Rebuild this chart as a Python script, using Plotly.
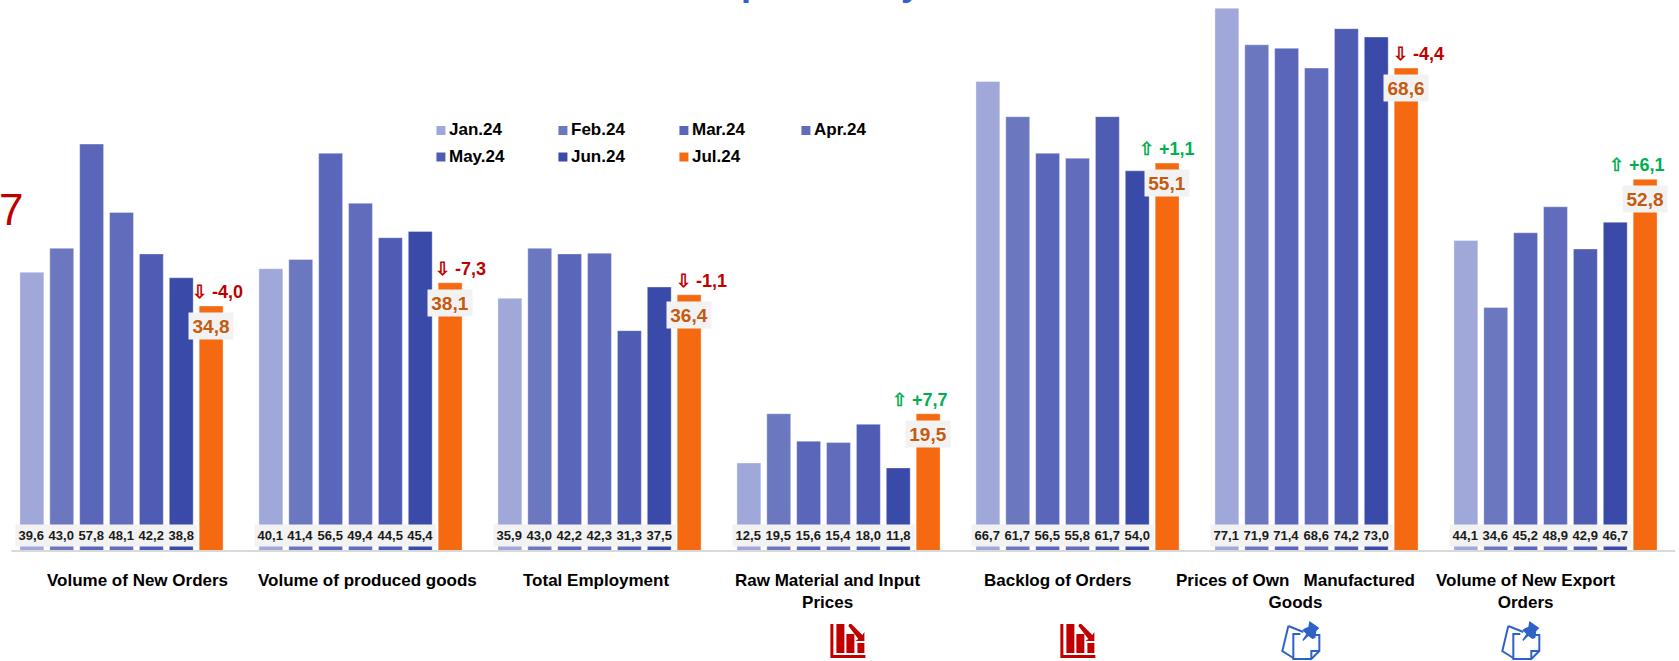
import plotly.graph_objects as go

categories = ["Volume of New Orders", "Volume of produced goods", "Total Employment",
              "Raw Material and Input Prices", "Backlog of Orders",
              "Prices of Own Manufactured Goods", "Volume of New Export Orders"]
tick_labels = ["Volume of New Orders", "Volume of produced goods", "Total Employment",
               "Raw Material and Input<br>Prices", "Backlog of Orders",
               "Prices of Own \u00a0 Manufactured<br>Goods", "Volume of New Export<br>Orders"]
months = ["Jan.24", "Feb.24", "Mar.24", "Apr.24", "May.24", "Jun.24", "Jul.24"]

jan = [39.6, 40.1, 35.9, 12.5, 66.7, 77.1, 44.1]
feb = [43.0, 41.4, 43.0, 19.5, 61.7, 71.9, 34.6]
mar = [57.8, 56.5, 42.2, 15.6, 56.5, 71.4, 45.2]
apr = [48.1, 49.4, 42.3, 15.4, 55.8, 68.6, 48.9]
may = [42.2, 44.5, 31.3, 18.0, 61.7, 74.2, 42.9]
jun = [38.8, 45.4, 37.5, 11.8, 54.0, 73.0, 46.7]
jul = [34.8, 38.1, 36.4, 19.5, 55.1, 68.6, 52.8]
series = [jan, feb, mar, apr, may, jun, jul]

delta_labels = ["\u21e9 -4,0", "\u21e9 -7,3", "\u21e9 -1,1", "\u21e7 +7,7", "\u21e7 +1,1", "\u21e9 -4,4", "\u21e7 +6,1"]

colors = ["#A0A8D9", "#6B78C0", "#5966B9", "#616DBC", "#4F5CB4", "#3A4AA9", "#F56A11"]
RED, GREEN, BLUE, AMBER = "#C00000", "#00B050", "#2F62C6", "#C55A11"
FONT = "Liberation Sans, Arial, sans-serif"

W, H = 1679, 661
L, R, BASE = 1.5, 1674.7, 551
delta_dx = [6.5, 10, 12, -8, 0, 12, -8]
caption_x = [137, 367, 596, 827, 1057, 1295, 1525]
per_unit = 7.04
legend_x = [436, 558, 679, 801, 436, 558, 679]
legend_y = [130.5, 130.5, 130.5, 130.5, 157, 157, 157]

def px(x):
    return (x - L) / (R - L)

def py(y):
    return (BASE - y) / BASE

def path(points, close=True):
    s = "M" + " L".join(f"{px(x):.5f},{py(y):.5f}" for x, y in points)
    return s + (" Z" if close else "")

fig = go.Figure()
for name, vals, col in zip(months, series, colors):
    fig.add_bar(x=categories, y=vals, name=name, marker_color=col, showlegend=False,
                marker_line=dict(color="rgba(255,255,255,0.35)", width=1))

annotations = []
slot = 0.125
for c in range(7):
    for m in range(6):
        annotations.append(dict(xref="x", yref="y", x=c + (m - 3) * slot, y=0, yshift=16,
                                text=f"{series[m][c]:.1f}".replace(".", ","), showarrow=False,
                                font=dict(family=FONT, size=13, color="#1a1a1a", weight="bold"),
                                bgcolor="#F2F2F2", width=30.5, height=20.5, borderpad=0))
    v = jul[c]
    annotations.append(dict(xref="x", yref="y", x=c + 3 * slot, y=v, yanchor="top", yshift=-6,
                            text=f"{v:.1f}".replace(".", ","), showarrow=False,
                            font=dict(family=FONT, size=19, color=AMBER, weight="bold"),
                            bgcolor="#F2F2F2", width=44, height=26, borderpad=0))
    d = delta_labels[c]
    annotations.append(dict(xref="x", yref="y", x=c + 3 * slot, y=v, yanchor="bottom", yshift=2,
                            xshift=delta_dx[c], text=d, showarrow=False,
                            font=dict(family=FONT, size=18, color=RED if "-" in d else GREEN, weight="bold")))
    annotations.append(dict(xref="paper", yref="paper", x=px(caption_x[c]), y=py(569), xanchor="center",
                            yanchor="top", text=tick_labels[c], showarrow=False, align="center",
                            font=dict(family=FONT, size=17, color="black", weight="bold")))

# fragments of the cropped page furniture
annotations.append(dict(xref="paper", yref="paper", x=px(0), y=py(209), xanchor="left", yanchor="middle",
                        text="7", showarrow=False, xshift=-4,
                        font=dict(family=FONT, size=44, color=RED)))
for ch, xc in (("p", 752), ("y", 911)):
    annotations.append(dict(xref="paper", yref="paper", x=px(xc), y=py(-17), xanchor="center", yanchor="middle",
                            text=ch, showarrow=False,
                            font=dict(family=FONT, size=36, color=BLUE, weight="bold")))

shapes = [dict(type="line", xref="paper", yref="paper", x0=px(11), x1=px(1675), y0=py(BASE), y1=py(BASE),
               line=dict(color="#D9D9D9", width=2))]

# legend keys and names
for name, col, lx, ly in zip(months, colors, legend_x, legend_y):
    shapes.append(dict(type="rect", xref="paper", yref="paper", x0=px(lx), x1=px(lx + 9),
                       y0=py(ly - 4.5), y1=py(ly + 4.5), fillcolor=col, line_width=0))
    annotations.append(dict(xref="paper", yref="paper", x=px(lx + 11), y=py(ly - 1), xanchor="left",
                            yanchor="middle", text=name, showarrow=False,
                            font=dict(family=FONT, size=17, color="black", weight="bold")))

def chart_icon(ox, oy):
    for pts in ([(10, 9), (13, 9), (13, 40), (45, 40), (45, 43), (10, 43)],
                [(16, 9), (24, 9), (24, 38), (16, 38)],
                [(26, 19), (34, 19), (34, 38), (26, 38)],
                [(37, 28), (44, 28), (44, 38), (37, 38)],
                [(29, 9), (31, 9), (42, 20), (44, 17), (44, 26), (35, 26), (38, 24), (28, 11)]):
        shapes.append(dict(type="path", xref="paper", yref="paper", layer="above", line_width=0,
                           fillcolor=RED, path=path([(ox + x, oy + y) for x, y in pts])))

def note_icon(ox, oy):
    for pts in ([(18, 11), (12, 36), (23, 43)], [(18, 11), (33, 17)]):
        shapes.append(dict(type="path", xref="paper", yref="paper", line=dict(color=BLUE, width=2),
                           path=path([(ox + x, oy + y) for x, y in pts], close=False)))
    shapes.append(dict(type="path", xref="paper", yref="paper", line=dict(color=BLUE, width=2),
                       path=path([(ox + x, oy + y) for x, y in
                                  [(30, 19), (23, 19), (23, 44), (41, 44), (49, 36), (49, 20), (44, 20)]], close=False)))
    shapes.append(dict(type="path", xref="paper", yref="paper", line=dict(color=BLUE, width=2),
                       path=path([(ox + x, oy + y) for x, y in [(41, 44), (41, 36), (49, 36)]], close=False)))
    shapes.append(dict(type="path", xref="paper", yref="paper", line_width=0, fillcolor=BLUE,
                       path=path([(ox + x, oy + y) for x, y in
                                  [(39, 6), (49, 13), (46, 16), (45, 23), (42, 24), (38, 21), (33, 26),
                                   (32, 25), (36, 19), (32, 15), (35, 13), (38, 12)]])))

chart_icon(820, 615)
chart_icon(1050, 615)
note_icon(1270, 615)
note_icon(1490, 615)

fig.update_layout(
    width=W, height=H, autosize=False,
    margin=dict(l=L, r=W - R, t=0, b=H - BASE, pad=0),
    paper_bgcolor="white", plot_bgcolor="white",
    barmode="group", bargap=0.125, bargroupgap=0.2,
    font=dict(family=FONT),
    xaxis=dict(range=[-0.5, 6.5], type="category", categoryorder="array",
               categoryarray=categories, showticklabels=False, showgrid=False, zeroline=False,
               showline=False, ticks=""),
    yaxis=dict(range=[0, BASE / per_unit], visible=False),
    annotations=annotations, shapes=shapes, showlegend=False,
)

fig.write_html("out.html", config={"displayModeBar": False},
               post_script="document.body.style.margin='0';document.body.style.overflow='hidden';")
